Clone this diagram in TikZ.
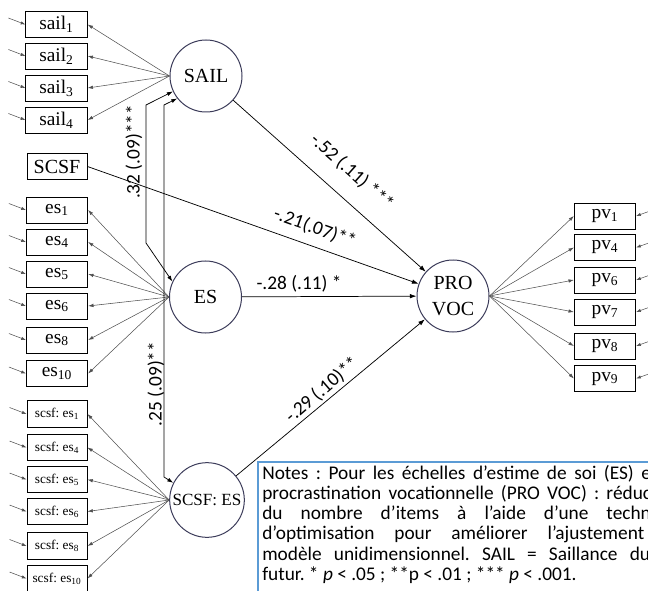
\documentclass[tikz,border=0pt]{standalone}
\usepackage{fontspec}
\setmainfont{Liberation Serif}
\newfontfamily\notefont{Carlito}
\usetikzlibrary{arrows.meta,calc}
\definecolor{latcol}{RGB}{60,60,90}
\definecolor{fancol}{RGB}{80,80,80}
\definecolor{noteblue}{RGB}{91,155,213}
\frenchspacing
\begin{document}
\begin{tikzpicture}[x=0.75pt,y=-0.75pt,
 obs/.style={draw, line width=0.7pt, fill=white, inner sep=0pt, minimum width=46pt, minimum height=19.5pt, font=\fontsize{14.5}{16}\selectfont},
 smallobs/.style={obs, minimum width=45pt, minimum height=20pt, font=\fontsize{10}{12}\selectfont},
 lat/.style={circle, draw=latcol, line width=0.75pt, minimum size=54pt, inner sep=0pt, font=\fontsize{15}{19.5}\selectfont, align=center},
 fan/.style={draw=fancol, line width=0.4pt, -{Latex[length=4pt,width=2.6pt]}},
 err/.style={draw=fancol, line width=0.4pt, -{Latex[length=3.5pt,width=2.4pt]}},
 pathc/.style={draw=black, line width=0.55pt, -{Latex[length=5pt,width=3.4pt]}},
 cov/.style={draw=black, line width=0.55pt, {Latex[length=4.5pt,width=3pt]}-{Latex[length=4.5pt,width=3pt]}},
 lbl/.style={font=\notefont\fontsize{14.5}{16}\selectfont, inner sep=0pt},
 notetext/.style={anchor=base west, inner sep=0pt, font=\notefont\fontsize{14.5}{16}\selectfont}]
\useasboundingbox (0,0) rectangle (648,591);
\clip (0,0) rectangle (648,591);

% latent variables
\node[lat] (lsail) at (206,76) {SAIL};
\node[lat] (les) at (205.5,297) {ES};
\node[lat, minimum size=56pt, font=\fontsize{12.8}{15}\selectfont] (lscsfes) at (207,500) {SCSF: ES};
\node[lat, font=\fontsize{15}{19.5}\selectfont] (lpro) at (453,296) {PRO\\VOC};

% sail indicators
\node[obs] (sail1) at (56.5,24.5) {sail\textsubscript{1}};
\node[obs] (sail2) at (56.5,56) {sail\textsubscript{2}};
\node[obs] (sail3) at (56.5,88) {sail\textsubscript{3}};
\node[obs] (sail4) at (56.5,120) {sail\textsubscript{4}};
\node[obs, minimum width=45pt, minimum height=20pt, font=\fontsize{15}{16}\selectfont] (scsf) at (57,166.5) {SCSF};

% es indicators
\node[obs] (es1) at (57,210) {es\textsubscript{1}};
\node[obs] (es4) at (57,242) {es\textsubscript{4}};
\node[obs] (es5) at (57,274) {es\textsubscript{5}};
\node[obs] (es6) at (57,306) {es\textsubscript{6}};
\node[obs] (es8) at (57,340) {es\textsubscript{8}};
\node[obs] (es10) at (57,373.5) {es\textsubscript{10}};

% scsf:es indicators
\node[smallobs] (ss1) at (57,414) {scsf: es\textsubscript{1}};
\node[smallobs] (ss4) at (57,447.5) {scsf: es\textsubscript{4}};
\node[smallobs] (ss5) at (57,479.5) {scsf: es\textsubscript{5}};
\node[smallobs] (ss6) at (57,511.5) {scsf: es\textsubscript{6}};
\node[smallobs] (ss8) at (57,546) {scsf: es\textsubscript{8}};
\node[smallobs] (ss10) at (57,578.5) {scsf: es\textsubscript{10}};

% pv indicators
\node[obs] (pv1) at (605,216) {pv\textsubscript{1}};
\node[obs] (pv4) at (605,247.5) {pv\textsubscript{4}};
\node[obs] (pv6) at (605,280) {pv\textsubscript{6}};
\node[obs] (pv7) at (605,312) {pv\textsubscript{7}};
\node[obs] (pv8) at (605,346) {pv\textsubscript{8}};
\node[obs] (pv9) at (605,378.5) {pv\textsubscript{9}};

% loadings
\foreach \b in {sail1,sail2,sail3,sail4}
  \draw[fan] (lsail.west) -- (\b.east);
\foreach \b in {es1,es4,es5,es6,es8,es10}
  \draw[fan] (les.west) -- (\b.east);
\foreach \b in {ss1,ss4,ss5,ss6,ss8,ss10}
  \draw[fan] (lscsfes.west) -- (\b.east);
\foreach \b in {pv1,pv4,pv6,pv7,pv8,pv9}
  \draw[fan] (lpro.east) -- (\b.west);

% error terms
\foreach \b in {sail1,sail2,sail3,sail4,es1,es4,es5,es6,es8,es10,ss1,ss4,ss5,ss6,ss8,ss10}
  \draw[err] ($(\b.west)+(-17,-6.5)$) -- (\b.west);
\foreach \b in {pv1,pv4,pv6,pv7,pv8,pv9}
  \draw[err] ($(\b.east)+(14,-5)$) -- (\b.east);

% structural paths
\draw[pathc] (lsail) -- (lpro);
\draw[pathc] (scsf.east) -- (lpro);
\draw[pathc] (les) -- (lpro);
\draw[pathc] (lscsfes) -- (lpro);

% covariances
\coordinate (c1t) at (146,105);
\coordinate (c1b) at (146,243);
\coordinate (c2t) at (164,105);
\coordinate (c2b) at (164,477);
\draw[cov] (lsail.205) -- (c1t) -- (c1b) -- (les.155);
\draw[cov] (lsail.218) -- (c2t) -- (c2b) -- (lscsfes.153);

% path labels
\node[lbl, rotate=90] (l32) at (134,152) {.32 (.09)***};
\node[lbl, rotate=90] (l25) at (156,384) {.25 (.09)**};
\node[lbl, rotate=-41.7] (l52) at (352,172) {-.52 (.11) ***};
\node[lbl, rotate=-19.6] (l21) at (315,228) {-.21(.07)**};
\node[lbl] (l28) at (299,284) {-.28 (.11) *};
\node[lbl, rotate=40.9] (l29) at (322,390) {-.29 (.10)**};

% notes
\draw[noteblue, line width=0.8pt, fill=white] (258,462) rectangle (720,660);
\node[notetext] (n1) at (262,479) {\makebox[296.25pt][s]{Notes : Pour les échelles d’estime de soi (ES) et}};
\node[notetext] (n2) at (262,499.3) {\makebox[315pt][s]{procrastination vocationnelle (PRO VOC) : réduction}};
\node[notetext] (n3) at (262,519.6) {\makebox[317.25pt][s]{du nombre d’items à l’aide d’une technique}};
\node[notetext] (n4) at (262,539.9) {\makebox[286.5pt][s]{d’optimisation pour améliorer l’ajustement}};
\node[notetext] (n5) at (262,560.2) {\makebox[291pt][s]{modèle unidimensionnel. SAIL = Saillance du}};
\node[notetext] (n6) at (262,580.5) {futur. * \textit{p} < .05 ; **p < .01 ; *** \textit{p} < .001.};
\end{tikzpicture}
\end{document}
